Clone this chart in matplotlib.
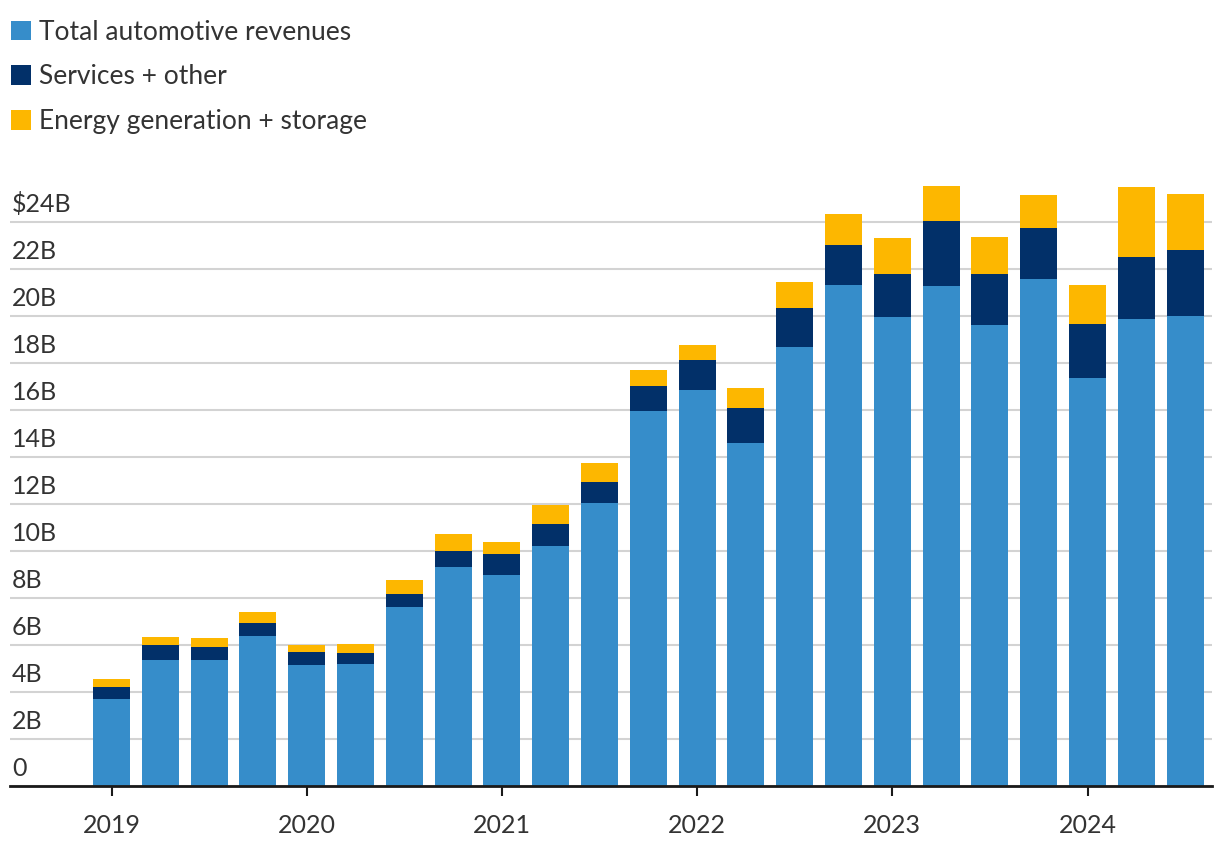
"""Tesla quarterly revenue by segment, stacked bars"""

import numpy as np
import matplotlib
matplotlib.use("Agg")
import matplotlib.pyplot as plt

plt.rcParams['font.family'] = ['Lato', 'DejaVu Sans']

# Quarters Q1 2019 .. Q3 2024, values in $B
quarters = ['Q1 2019', 'Q2 2019', 'Q3 2019', 'Q4 2019',
            'Q1 2020', 'Q2 2020', 'Q3 2020', 'Q4 2020',
            'Q1 2021', 'Q2 2021', 'Q3 2021', 'Q4 2021',
            'Q1 2022', 'Q2 2022', 'Q3 2022', 'Q4 2022',
            'Q1 2023', 'Q2 2023', 'Q3 2023', 'Q4 2023',
            'Q1 2024', 'Q2 2024', 'Q3 2024']
automotive = [3.72, 5.38, 5.35, 6.37, 5.13, 5.18, 7.61, 9.31,
              9.00, 10.21, 12.06, 15.97, 16.86, 14.60, 18.69, 21.31,
              19.96, 21.27, 19.63, 21.56, 17.38, 19.88, 20.02]
services = [0.49, 0.61, 0.55, 0.58, 0.56, 0.49, 0.58, 0.68,
            0.89, 0.95, 0.89, 1.06, 1.28, 1.47, 1.65, 1.70,
            1.84, 2.77, 2.17, 2.17, 2.29, 2.61, 2.79]
energy = [0.33, 0.37, 0.40, 0.44, 0.29, 0.37, 0.58, 0.75,
          0.49, 0.80, 0.81, 0.69, 0.62, 0.87, 1.12, 1.31,
          1.53, 1.49, 1.56, 1.44, 1.64, 3.01, 2.38]

year_labels = ['2019', '2020', '2021', '2022', '2023', '2024']
y_ticks = [0, 2, 4, 6, 8, 10, 12, 14, 16, 18, 20, 22, 24]
y_labels = ['0', '2B', '4B', '6B', '8B', '10B', '12B', '14B',
            '16B', '18B', '20B', '22B', '$24B']

series_names = ['Total automotive revenues', 'Services + other',
                'Energy generation + storage']
colors = ['#368dca', '#023069', '#fdb700']
text_color = '#333333'


def main():
    fig = plt.figure(figsize=(12.2, 8.6), dpi=100)
    ax = fig.add_axes([10 / 1220, 74 / 860, 1202 / 1220, 611 / 860])

    x = np.arange(len(quarters))
    auto = np.array(automotive)
    serv = np.array(services)
    ener = np.array(energy)

    width = 0.76
    b1 = ax.bar(x, auto, width, color=colors[0], label=series_names[0])
    b2 = ax.bar(x, serv, width, bottom=auto, color=colors[1],
                label=series_names[1])
    b3 = ax.bar(x, ener, width, bottom=auto + serv, color=colors[2],
                label=series_names[2])

    ax.set_xlim(-2.08, 22.55)
    ax.set_ylim(0, 26)

    # Gridlines with labels sitting above them
    ax.set_yticks(y_ticks)
    ax.yaxis.grid(True, color='#d3d3d3', linewidth=1.5)
    ax.set_axisbelow(True)
    ax.tick_params(axis='y', length=0, labelleft=False)
    for v, lab in zip(y_ticks, y_labels):
        ax.annotate(lab, xy=(0, v), xycoords=('axes fraction', 'data'),
                    xytext=(1.5, 7.5), textcoords='offset points',
                    ha='left', va='baseline', fontsize=18,
                    color=text_color)

    # Year ticks at each Q1
    ax.set_xticks(x[::4])
    ax.set_xticklabels(year_labels, fontsize=18, color=text_color)
    ax.tick_params(axis='x', length=7, width=1.5, color='#1a1a1a', pad=13)

    for side in ['top', 'right', 'left']:
        ax.spines[side].set_visible(False)
    ax.spines['bottom'].set_color('#1a1a1a')
    ax.spines['bottom'].set_linewidth(2)

    fig.legend(handles=[b1, b2, b3], loc='upper left',
               bbox_to_anchor=(0, 1 - 9 / 860), frameon=False,
               fontsize=19, handlelength=0.76, handleheight=0.76,
               handletextpad=0.3, labelspacing=0.75, borderaxespad=0,
               labelcolor=text_color)

    fig.savefig('out.png', dpi=100)
    plt.close(fig)


if __name__ == "__main__":
    main()
